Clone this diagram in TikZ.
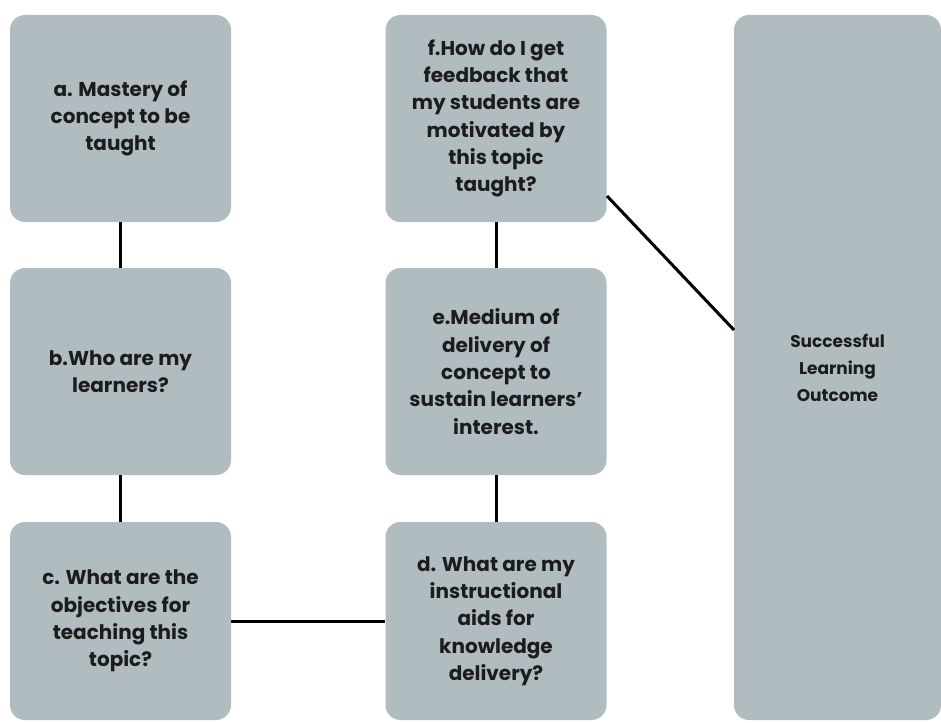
\documentclass[tikz,border=0pt]{standalone}
\usepackage{fontspec}
\setmainfont{Poppins}
\definecolor{boxfill}{HTML}{B1BCC0}
\definecolor{txt}{HTML}{1C1C1C}
\begin{document}
\begin{tikzpicture}[x=1pt,y=-1pt,
  card/.style={fill=boxfill, draw=none, rounded corners=15pt, align=center,
    text=txt, font=\fontsize{20}{27.3}\selectfont\bfseries, inner sep=0pt,
    minimum width=221pt, minimum height=207pt},
  link/.style={line width=3pt, draw=black}]
\useasboundingbox (0,0) rectangle (941,722);
\node[card] (a) at (120.5,118.5) {a. Mastery of\\concept to be\\taught};
\node[card] (b) at (120.5,371.5) {b.Who are my\\learners?};
\node[card, minimum height=198pt] (c) at (120.5,621) {c. What are the\\objectives for\\teaching this\\topic?};
\node[card] (f) at (496,118.5) {f.How do I get\\feedback that\\my students are\\motivated by\\this topic\\taught?};
\node[card] (e) at (496,371.5) {e.Medium of\\delivery of\\concept to\\sustain learners’\\interest.};
\node[card, minimum height=198pt] (d) at (496,621) {d. What are my\\instructional\\aids for\\knowledge\\delivery?};
\node[card, minimum width=207pt, minimum height=705pt, font=\fontsize{17}{27}\selectfont\bfseries] (s) at (837.5,367.5) {Successful\\Learning\\Outcome};
\draw[link] (a.south) -- (b.north);
\draw[link] (b.south) -- (c.north);
\draw[link] (c.east) -- (d.west);
\draw[link] (d.north) -- (e.south);
\draw[link] (e.north) -- (f.south);
\coordinate (fs) at (607,196);
\coordinate (se) at (734,330);
\draw[link] (fs) -- (se);
\end{tikzpicture}
\end{document}
